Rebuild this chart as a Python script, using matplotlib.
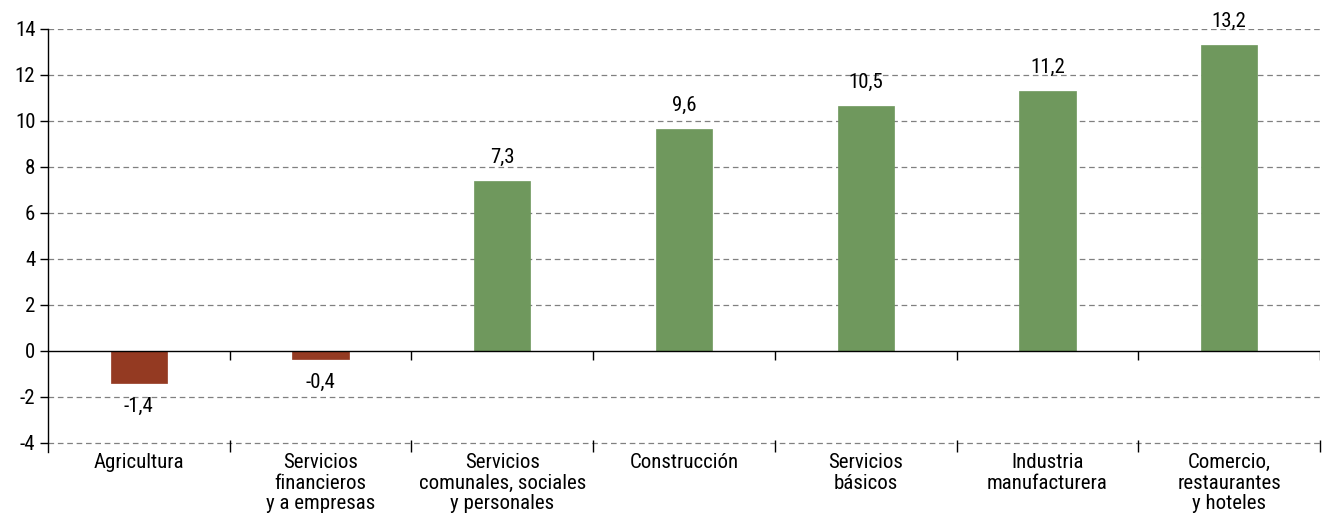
import numpy as np
import matplotlib
matplotlib.use("Agg")
from matplotlib import pyplot as plt

# datos del grafico
categorias = ["Agricultura", "Servicios\nfinancieros\ny a empresas",
              "Servicios\ncomunales, sociales\ny personales", "Construcción",
              "Servicios\nbásicos", "Industria\nmanufacturera",
              "Comercio,\nrestaurantes\ny hoteles"]
# altura de las barras y etiquetas impresas
valores = [-1.4, -0.35, 7.4, 9.65, 10.65, 11.3, 13.3]
etiquetas = ["-1,4", "-0,4", "7,3", "9,6", "10,5", "11,2", "13,2"]
yticks = [-4, -2, 0, 2, 4, 6, 8, 10, 12, 14]

plt.rcParams['font.family'] = ['Roboto Condensed', 'DejaVu Sans']

rojo = "#943a22"
verde = "#6f985d"

fig = plt.figure(figsize=(13.23, 5.16), dpi=100)
ax = fig.add_axes([48 / 1323, 1 - 452 / 516, (1320 - 48) / 1323, (452 - 29) / 516])

x = np.arange(len(valores))
colores = [rojo if v < 0 else verde for v in valores]
ax.bar(x, valores, width=0.31, color=colores, edgecolor=colores, linewidth=0.5, zorder=3)

# etiquetas de valores
for xi, v, txt in zip(x, valores, etiquetas):
    if v < 0:
        ax.annotate(txt, (xi, v), xytext=(0, -10), textcoords="offset points",
                    ha="center", va="top", fontsize=15)
    else:
        ax.annotate(txt, (xi, v), xytext=(0, 10), textcoords="offset points",
                    ha="center", va="bottom", fontsize=15)

ax.set_xlim(-0.5, len(valores) - 0.5)
ax.set_ylim(-4.4, 14)
ax.set_yticks(yticks)
ax.set_yticklabels([str(t) for t in yticks], fontsize=15)
for t in yticks:
    if t != 0:
        ax.axhline(t, color="#808080", linestyle=(0, (4.5, 3)), linewidth=0.9, zorder=1)
ax.axhline(0, color="black", linewidth=1.0, zorder=4)

# marcas en el eje cero, entre categorias
bordes = np.arange(0.5, len(valores) - 0.5 + 1e-9, 1.0)
ax.vlines(bordes, -0.4, 0, color="black", linewidth=1.0, zorder=4)

ax.set_xticks(x)
ax.set_xticklabels(categorias, fontsize=15, linespacing=1.08)
ax.set_xticks(bordes, minor=True)
ax.tick_params(axis="x", which="major", length=0, pad=1)
ax.tick_params(axis="x", which="minor", length=9, direction="in", width=1.0)
ax.tick_params(axis="y", length=6, width=1.0, pad=3)

for s in ["top", "right", "bottom"]:
    ax.spines[s].set_visible(False)
ax.spines["left"].set_linewidth(1.0)

fig.savefig("out.png", dpi=100)
